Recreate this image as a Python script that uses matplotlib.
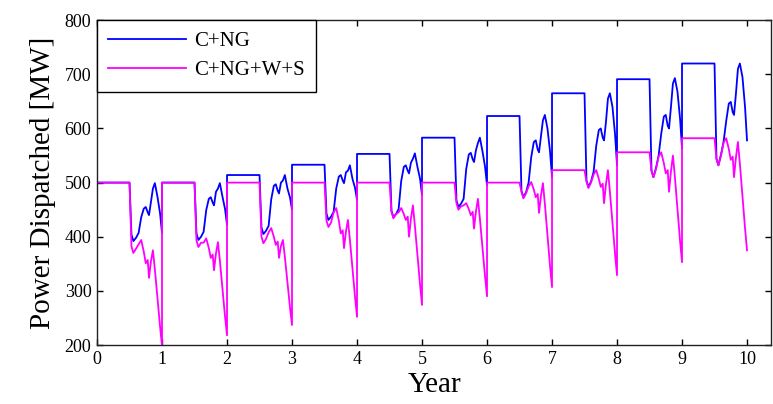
import numpy as np
import matplotlib
matplotlib.use("Agg")
import matplotlib.pyplot as plt

# time points inside each year (fraction of the year)
offsets = [0.00, 0.50, 0.53, 0.56, 0.60, 0.64, 0.68, 0.72, 0.75,
           0.78, 0.80, 0.83, 0.86, 0.89, 0.93, 0.97, 1.00]

years = list(range(10))

# C+NG dispatched power [MW], one row per year on the offsets grid
cng = [
    [500, 500, 404, 392, 398, 407, 436, 452, 455, 445, 440, 465, 489, 499, 474, 443, 407],
    [500, 500, 406, 394, 400, 409, 449, 470, 473, 463, 458, 483, 489, 499, 474, 451, 422],
    [514, 514, 417, 405, 411, 420, 469, 494, 497, 485, 480, 500, 504, 514, 489, 472, 450],
    [533, 533, 443, 431, 437, 446, 489, 511, 514, 504, 499, 519, 522, 532, 507, 490, 468],
    [553, 553, 448, 436, 442, 451, 503, 529, 532, 522, 517, 537, 544, 554, 529, 507, 477],
    [583, 583, 467, 455, 461, 470, 525, 552, 555, 543, 538, 560, 573, 583, 558, 529, 495],
    [623, 623, 485, 473, 482, 500, 547, 575, 578, 561, 556, 585, 615, 625, 600, 557, 510],
    [665, 665, 504, 492, 502, 520, 568, 597, 600, 583, 578, 612, 655, 665, 640, 589, 532],
    [691, 691, 522, 510, 527, 550, 590, 622, 625, 605, 600, 640, 683, 693, 668, 618, 563],
    [720, 720, 544, 532, 552, 576, 614, 646, 649, 630, 625, 665, 710, 720, 695, 639, 578],
]

# C+NG+W+S dispatched power [MW]
cngws = [
    [500, 500, 382, 370, 378, 386, 394, 372, 351, 357, 324, 355, 375, 340, 287, 234, 198],
    [500, 500, 393, 381, 389, 389, 397, 379, 361, 367, 338, 369, 390, 356, 304, 252, 218],
    [500, 500, 400, 388, 396, 408, 416, 400, 385, 391, 361, 383, 394, 363, 316, 268, 237],
    [500, 500, 430, 418, 426, 445, 453, 430, 406, 412, 379, 410, 431, 395, 342, 288, 252],
    [500, 500, 446, 434, 442, 445, 453, 442, 431, 437, 400, 434, 458, 421, 366, 311, 274],
    [500, 500, 462, 450, 456, 458, 462, 451, 440, 446, 415, 447, 470, 434, 380, 326, 290],
    [500, 500, 483, 471, 480, 493, 501, 487, 473, 479, 444, 476, 499, 461, 403, 345, 307],
    [523, 523, 502, 490, 500, 515, 523, 507, 492, 498, 462, 497, 523, 484, 426, 368, 329],
    [556, 556, 522, 510, 525, 548, 556, 536, 517, 523, 483, 521, 550, 511, 452, 392, 353],
    [582, 582, 544, 532, 550, 574, 582, 562, 542, 548, 510, 547, 575, 535, 475, 415, 375],
]

t = np.concatenate([y + np.array(offsets) for y in years])
p_cng = np.concatenate(cng)
p_cngws = np.concatenate(cngws)

plt.rcParams['font.family'] = ['Liberation Serif', 'DejaVu Serif']

fig = plt.figure(figsize=(7.73, 4.04), dpi=100)
ax = fig.add_axes([0.1255, 0.146, 0.872, 0.804])

ax.plot(t, p_cng, color='#0000ff', lw=1.3, label='C+NG')
ax.plot(t, p_cngws, color='#ff00ff', lw=1.3, label='C+NG+W+S')

ax.set_xlim(0, 10.37)
ax.set_ylim(200, 800)
ax.set_xticks(range(0, 11))
ax.set_yticks(range(200, 801, 100))
ax.tick_params(direction='in', length=4, width=1, top=True, right=True,
               labelsize=13, pad=4)
for s in ax.spines.values():
    s.set_linewidth(1)
    s.set_color('#222222')

ax.set_xlabel('Year', fontsize=21, labelpad=3)
ax.set_ylabel('Power Dispatched [MW]', fontsize=21, labelpad=6)

leg = ax.legend(loc='upper left', borderaxespad=0, fontsize=15,
                handlelength=3.7, handletextpad=0.4, labelspacing=0.45,
                borderpad=0.55, fancybox=False, framealpha=1)
leg.get_frame().set_edgecolor('black')
leg.get_frame().set_linewidth(1)

fig.savefig('out.png', dpi=100)
